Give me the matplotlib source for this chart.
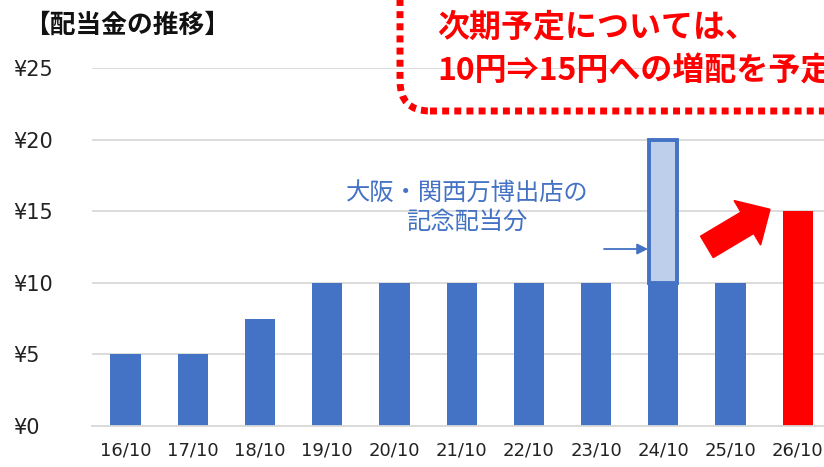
import matplotlib
matplotlib.use("Agg")
import matplotlib.pyplot as plt
from matplotlib.patches import FancyBboxPatch, FancyArrow

plt.rcParams['font.family'] = ['Noto Sans CJK JP', 'DejaVu Sans']

# data
periods = ["16/10", "17/10", "18/10", "19/10", "20/10", "21/10",
           "22/10", "23/10", "24/10", "25/10", "26/10"]
dividend = [5, 5, 7.5, 10, 10, 10, 10, 10, 10, 10, 15]
commemorative = [0, 0, 0, 0, 0, 0, 0, 0, 10, 0, 0]
yticks = [0, 5, 10, 15, 20, 25]
ytick_labels = ["¥0", "¥5", "¥10", "¥15", "¥20", "¥25"]

BLUE = "#4472C4"
LIGHT = "#BDCFEB"
RED = "#FF0000"

W, H = 824, 467
fig = plt.figure(figsize=(W / 100, H / 100), dpi=100)


def fx(x):
    return x / W


def fy(y):
    return 1 - y / H


ax = fig.add_axes([fx(92), fy(426), fx(824) - fx(92), fy(68) - fy(426)])

x = list(range(len(periods)))
colors = [BLUE] * (len(periods) - 1) + [RED]
ax.bar(x, dividend, width=0.45, color=colors, zorder=2)
ax.bar(x, commemorative, bottom=dividend, width=0.42, color=LIGHT,
       edgecolor=[BLUE if v else "none" for v in commemorative],
       linewidth=2.8, zorder=2)

ax.set_xlim(-0.5, 10.39)
ax.set_ylim(0, 25)
ax.set_yticks(yticks)
ax.set_yticklabels(ytick_labels, fontsize=15, ha="left", color="#222222",
                   family=["DejaVu Sans"])
ax.tick_params(axis="y", length=0, pad=57)
ax.set_xticks(x)
ax.set_xticklabels(periods, fontsize=13, color="#222222",
                   family=["Liberation Sans Narrow", "DejaVu Sans"])
ax.tick_params(axis="x", length=0, pad=11)
ax.grid(axis="y", color="#D9D9D9", linewidth=1.3, zorder=0)
ax.set_axisbelow(True)
for s in ["top", "right", "left"]:
    ax.spines[s].set_visible(False)
ax.spines["bottom"].set_color("#D9D9D9")
ax.spines["bottom"].set_linewidth(1.3)

# title
fig.text(fx(24), fy(25), "【配当金の推移】", fontsize=18.5, fontweight="bold",
         ha="left", va="center", color="#111111")

# annotation for commemorative dividend
fig.text(fx(467), fy(208), "大阪・関西万博出店の\n記念配当分", fontsize=17.5,
         color=BLUE, ha="center", va="center", linespacing=1.1)
ax.annotate("", xy=(fx(648), fy(249)), xytext=(fx(604), fy(249)),
            xycoords="figure fraction", textcoords="figure fraction",
            arrowprops=dict(arrowstyle="-|>", color=BLUE, lw=1.3,
                            mutation_scale=16, shrinkA=0, shrinkB=0))

# big red arrow (inches, isotropic)
arrow = FancyArrow(7.069, (H - 246.9) / 100, 0.631, 0.376, width=0.249,
                   head_width=0.518, head_length=0.264,
                   length_includes_head=True, color=RED,
                   transform=fig.dpi_scale_trans, zorder=5)
fig.add_artist(arrow)

# dotted callout box
box = FancyBboxPatch((400 / 100, (H - 111) / 100), 6.0, 2.0,
                     boxstyle="round,pad=0,rounding_size=0.3",
                     transform=fig.dpi_scale_trans, fill=False,
                     edgecolor=RED, linewidth=5, linestyle=(0, (1, 0.75)),
                     capstyle="butt", zorder=6)
fig.add_artist(box)

fig.text(fx(437), fy(28), "次期予定については、", fontsize=23,
         fontweight="bold", color=RED, ha="left", va="center")
fig.text(fx(437), fy(72), "10円⇒15円への増配を予定", fontsize=23,
         fontweight="bold", color=RED, ha="left", va="center",
         family=["Noto Sans CJK JP", "DejaVu Sans"])

fig.savefig("out.png", dpi=100)
